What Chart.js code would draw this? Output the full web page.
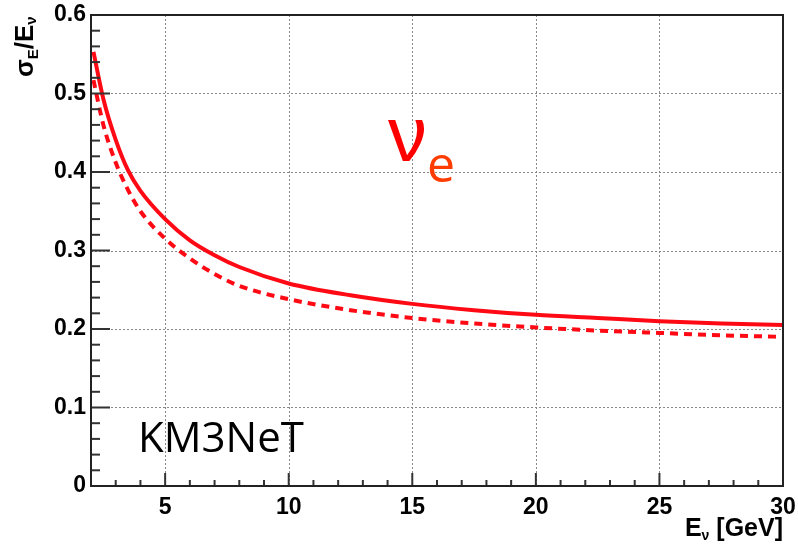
<!DOCTYPE html>
<html>
<head>
<meta charset="utf-8">
<script src="https://cdn.jsdelivr.net/npm/chart.js@4.4.1/dist/chart.umd.min.js"></script>
<style>
  body { margin: 0; background: #fff; }
  #wrap { width: 798px; height: 544px; }
</style>
</head>
<body>
<div id="wrap"><canvas id="reso" width="798" height="544"></canvas></div>
<script>
// energy resolution vs neutrino energy
const energy = [2.1, 2.5, 3, 3.5, 4, 5, 6, 7, 8, 10, 12.5, 15, 17.5, 20, 22.5, 25, 27.5, 30];
const resSolid = [0.553, 0.493, 0.441, 0.402, 0.376, 0.340, 0.313, 0.294, 0.279, 0.258, 0.243, 0.232, 0.224, 0.218, 0.214, 0.210, 0.207, 0.205];
const resDashed = [0.517, 0.460, 0.412, 0.377, 0.350, 0.315, 0.290, 0.270, 0.255, 0.238, 0.224, 0.214, 0.207, 0.202, 0.198, 0.195, 0.192, 0.190];
const xTicks = [5, 10, 15, 20, 25, 30];
const yTicks = [0, 0.1, 0.2, 0.3, 0.4, 0.5, 0.6];

const RED = '#ff0a14';
const tickFont = { family: "'Liberation Sans', Arial, sans-serif", size: 23, weight: 'bold' };

function pts(ys) {
  return energy.map((e, i) => ({ x: e, y: ys[i] }));
}

// draws text pieces one after another, subscripts shifted down
function drawPieces(ctx, pieces, x, y) {
  let cx = x;
  pieces.forEach(p => {
    ctx.font = p.font;
    ctx.fillStyle = p.color || '#000';
    ctx.fillText(p.text, cx, y + (p.dy || 0));
    cx += ctx.measureText(p.text).width + (p.gap || 0);
  });
  return cx - x;
}
function piecesWidth(ctx, pieces) {
  let w = 0;
  pieces.forEach(p => { ctx.font = p.font; w += ctx.measureText(p.text).width + (p.gap || 0); });
  return w;
}

// ROOT-like frame: dotted grid, inward ticks, box
const rootFrame = {
  id: 'rootFrame',
  beforeDatasetsDraw(chart) {
    const { ctx, chartArea: a, scales: { x, y } } = chart;
    ctx.save();
    ctx.strokeStyle = '#888';
    ctx.lineWidth = 1;
    ctx.setLineDash([2, 2]);
    xTicks.forEach(v => {
      if (v >= 30) return;
      const px = Math.round(x.getPixelForValue(v)) + 0.5;
      ctx.beginPath(); ctx.moveTo(px, a.top); ctx.lineTo(px, a.bottom); ctx.stroke();
    });
    yTicks.forEach(v => {
      if (v <= 0 || v >= 0.6) return;
      const py = Math.round(y.getPixelForValue(v)) + 0.5;
      ctx.beginPath(); ctx.moveTo(a.left, py); ctx.lineTo(a.right, py); ctx.stroke();
    });
    ctx.restore();
  },
  afterDatasetsDraw(chart) {
    const { ctx, chartArea: a, scales: { x, y } } = chart;
    ctx.save();
    ctx.strokeStyle = '#333';
    ctx.lineWidth = 2;
    // minor + major ticks on x
    for (let v = 3; v < 30; v++) {
      const px = x.getPixelForValue(v);
      const len = v % 5 === 0 ? 13 : 6;
      ctx.beginPath(); ctx.moveTo(px, a.bottom); ctx.lineTo(px, a.bottom - len); ctx.stroke();
    }
    // minor + major ticks on y
    for (let i = 1; i < 30; i++) {
      const py = y.getPixelForValue(i * 0.02);
      const len = i % 5 === 0 ? 19 : 9;
      ctx.beginPath(); ctx.moveTo(a.left, py); ctx.lineTo(a.left + len, py); ctx.stroke();
    }
    ctx.strokeStyle = '#222';
    ctx.strokeRect(a.left, a.top, a.right - a.left, a.bottom - a.top);
    ctx.restore();
  },
  afterDraw(chart) {
    const { ctx } = chart;
    ctx.save();
    ctx.textBaseline = 'alphabetic';
    ctx.textAlign = 'left';
    const bold = s => 'bold ' + s + "px 'Liberation Sans', Arial, sans-serif";

    // x title
    const xt = [
      { text: 'E', font: bold(25) },
      { text: 'ν', font: bold(14), dy: 4 },
      { text: ' [GeV]', font: bold(25) }
    ];
    drawPieces(ctx, xt, 783 - piecesWidth(ctx, xt), 536);

    // y title, rotated
    ctx.save();
    ctx.translate(33, 77);
    ctx.rotate(-Math.PI / 2);
    drawPieces(ctx, [
      { text: 'σ', font: bold(26) },
      { text: 'E', font: bold(15), dy: 5 },
      { text: '/E', font: bold(26) },
      { text: 'ν', font: bold(15), dy: 3 }
    ], 0, 0);
    ctx.restore();

    // annotations
    ctx.font = "78px 'Liberation Sans', Arial, sans-serif";
    ctx.fillStyle = '#ff0000';
    ctx.fillText('ν', 388, 161);
    ctx.font = "50px 'Open Sans', sans-serif";
    ctx.fillStyle = '#ff3c00';
    ctx.fillText('e', 427, 182);

    ctx.font = "42px 'Open Sans', sans-serif";
    ctx.fillStyle = '#000';
    ctx.fillText('KM3NeT', 138, 452);
    ctx.restore();
  }
};

new Chart(document.getElementById('reso'), {
  type: 'line',
  data: {
    datasets: [{
      data: pts(resSolid),
      borderColor: RED,
      borderWidth: 4,
      pointRadius: 0,
      cubicInterpolationMode: 'monotone',
      fill: false
    }, {
      data: pts(resDashed),
      borderColor: RED,
      borderWidth: 4,
      borderDash: [8, 6],
      pointRadius: 0,
      cubicInterpolationMode: 'monotone',
      fill: false
    }]
  },
  options: {
    responsive: false,
    animation: false,
    layout: { padding: { top: 15, right: 15, left: 0, bottom: 0 } },
    plugins: { legend: { display: false }, tooltip: { enabled: false } },
    scales: {
      x: {
        type: 'linear',
        min: 2,
        max: 30,
        grid: { display: false, drawTicks: false },
        border: { display: false },
        afterBuildTicks: s => { s.ticks = xTicks.map(v => ({ value: v })); },
        afterFit: s => { s.height = 58; s.paddingLeft = 0; s.paddingRight = 0; },
        ticks: { font: tickFont, color: '#000', padding: 8, maxRotation: 0 }
      },
      y: {
        type: 'linear',
        min: 0,
        max: 0.6,
        grid: { display: false, drawTicks: false },
        border: { display: false },
        afterBuildTicks: s => { s.ticks = yTicks.map(v => ({ value: v })); },
        afterFit: s => { s.width = 91; s.paddingTop = 0; s.paddingBottom = 0; },
        ticks: { font: tickFont, color: '#000', padding: 5, callback: v => String(+v.toFixed(1)) }
      }
    }
  },
  plugins: [rootFrame]
});
</script>
</body>
</html>
